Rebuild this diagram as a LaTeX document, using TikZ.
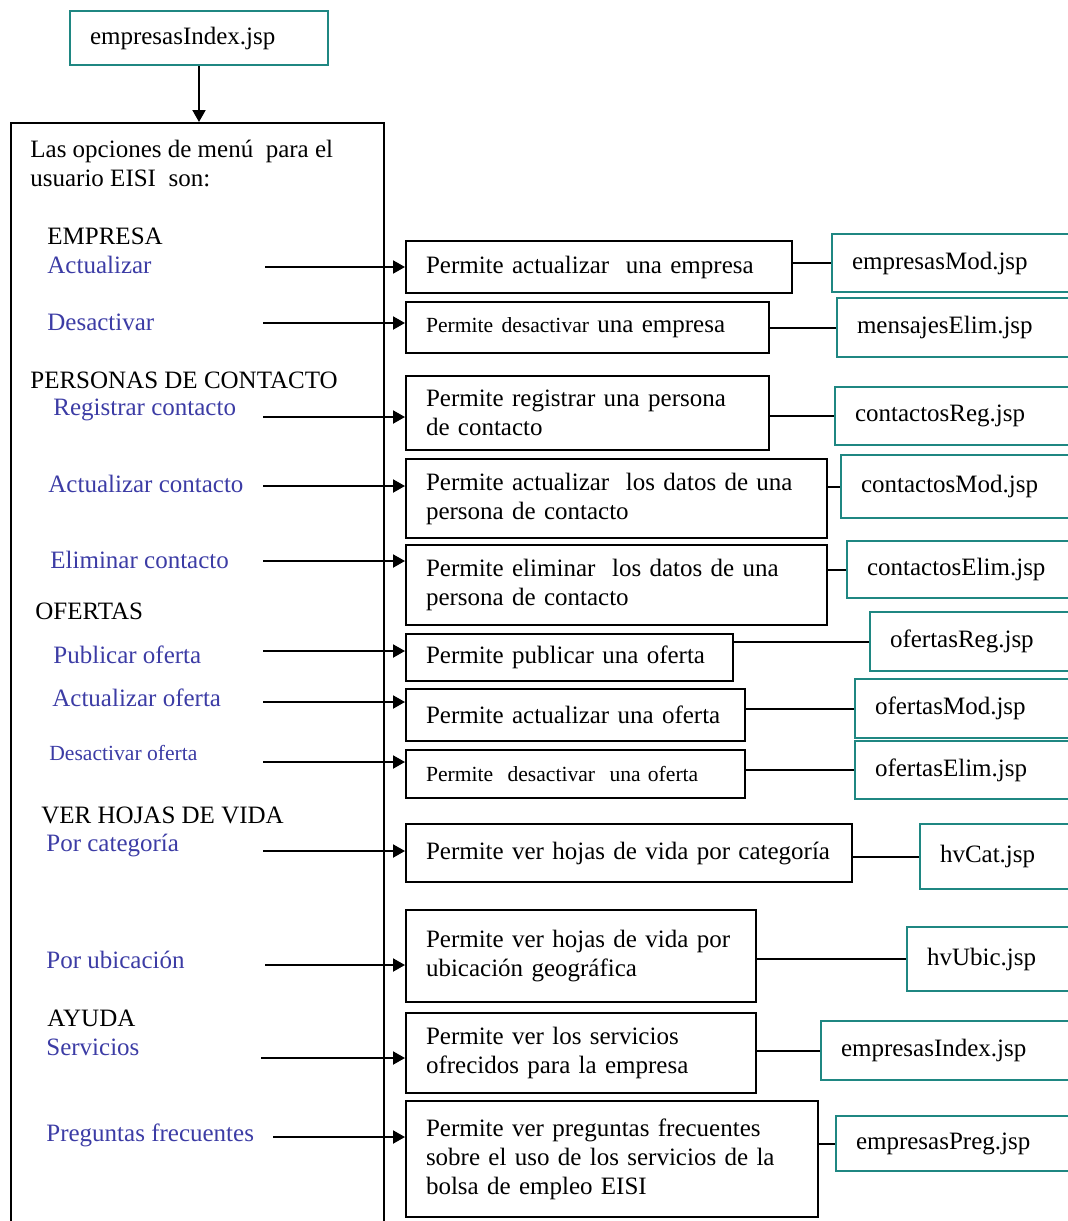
\documentclass[tikz,border=0pt]{standalone}
\usepackage{fontspec}
\setmainfont{Liberation Serif}
\usepackage{tikz}
\usetikzlibrary{positioning, arrows.meta}

\definecolor{jspteal}{RGB}{31,135,130}
\definecolor{menublue}{RGB}{60,60,165}

\begin{document}
\begin{tikzpicture}[
  x=0.5pt, y=-0.5pt,
  font=\fontsize{12.5}{14.5}\selectfont,
  frame/.style={draw, line width=1pt, anchor=north west, inner sep=0pt},
  action/.style 2 args={draw, line width=1pt, anchor=north west, align=left,
    inner xsep=10pt, inner ysep=0pt, text width=#1, minimum height=#2,
    execute at begin node={\hyphenpenalty=10000}},
  jsp/.style 2 args={action={#1}{#2}, draw=jspteal},
  head/.style={anchor=west, inner sep=0pt},
  option/.style={anchor=west, inner sep=0pt, text=menublue},
  arrow/.style={-{Triangle[length=6pt,width=6.5pt]}, line width=1pt},
  link/.style={line width=1pt},
]
  \useasboundingbox (0,0) rectangle (1067,1221);

  % entry page and menu
  \node[jsp={109pt}{27pt}] (idx) at (69,10) {empresasIndex.jsp};
  \node[frame, minimum width=186.5pt, minimum height=560pt] (menu) at (10,122) {};
  \draw[arrow] (idx.south) -- (idx.south |- menu.north);

  \node[anchor=north west, inner sep=0pt, align=left] (intro) at (30,140)
    {Las opciones de menú\ \ para el\\usuario EISI\ \ son:};

  \node[head] (hEmp) at (47,236) {EMPRESA};
  \node[option] (oEmpAct) at (47,265) {Actualizar};
  \node[option] (oEmpDes) at (47,322) {Desactivar};
  \node[head] (hCon) at (30,380) {PERSONAS DE CONTACTO};
  \node[option] (oConReg) at (53,410) {Registrar contacto};
  \node[option] (oConAct) at (48,484) {Actualizar contacto};
  \node[option] (oConEli) at (50,560) {Eliminar contacto};
  \node[head] (hOfe) at (35,611) {OFERTAS};
  \node[option] (oOfePub) at (53,655) {Publicar oferta};
  \node[option] (oOfeAct) at (52,698) {Actualizar oferta};
  \node[option, font=\fontsize{10.8}{13}\selectfont] (oOfeDes) at (49,753) {Desactivar oferta};
  \node[head] (hHv) at (41,815) {VER HOJAS DE VIDA};
  \node[option] (oHvCat) at (46,845) {Por categoría};
  \node[option] (oHvUbi) at (46,960) {Por ubicación};
  \node[head] (hAyu) at (47,1018) {AYUDA};
  \node[option] (oAyuSer) at (46,1047) {Servicios};
  \node[option] (oAyuPre) at (46,1135) {Preguntas frecuentes};

  % what each option does
  \node[action={173pt}{26pt}] (aEmpAct) at (405,240) {Permite actualizar\ \ una empresa};
  \node[action={161.5pt}{25.5pt}] (aEmpDes) at (405,301)
    {{\fontsize{10.8}{13}\selectfont Permite desactivar} una empresa};
  \node[action={161.5pt}{37pt}] (aConReg) at (405,375) {Permite registrar una persona\\de contacto};
  \node[action={190.5pt}{39.5pt}] (aConAct) at (405,458) {Permite actualizar\ \ los datos de una\\persona de contacto};
  \node[action={190.5pt}{40pt}] (aConEli) at (405,544) {Permite eliminar\ \ los datos de una\\persona de contacto};
  \node[action={143.5pt}{23.5pt}] (aOfePub) at (405,633) {Permite publicar una oferta};
  \node[action={149.5pt}{26pt}] (aOfeAct) at (405,688) {Permite actualizar una oferta};
  \node[action={149.5pt}{24pt}, font=\fontsize{10.8}{13}\selectfont] (aOfeDes) at (405,749)
    {Permite\ \ desactivar\ \ una oferta};
  \node[action={203pt}{29pt}] (aHvCat) at (405,823) {Permite ver hojas de vida por categoría};
  \node[action={155pt}{46pt}] (aHvUbi) at (405,909) {Permite ver hojas de vida por\\ubicación geográfica};
  \node[action={155pt}{40pt}] (aAyuSer) at (405,1012) {Permite ver los servicios\\ofrecidos para la empresa};
  \node[action={186pt}{58pt}] (aAyuPre) at (405,1100)
    {Permite ver preguntas frecuentes\\sobre el uso de los servicios de la\\bolsa de empleo EISI};

  % pages
  \node[jsp={104.5pt}{29pt}] (jEmpAct) at (831,233) {empresasMod.jsp};
  \node[jsp={102pt}{29.5pt}] (jEmpDes) at (836,297) {mensajesElim.jsp};
  \node[jsp={103pt}{29pt}] (jConReg) at (834,386) {contactosReg.jsp};
  \node[jsp={100pt}{31.5pt}] (jConAct) at (840,454) {contactosMod.jsp};
  \node[jsp={97pt}{28.5pt}] (jConEli) at (846,540) {contactosElim.jsp};
  \node[jsp={85.5pt}{29.5pt}] (jOfePub) at (869,611) {ofertasReg.jsp};
  \node[jsp={93pt}{29.5pt}] (jOfeAct) at (854,678) {ofertasMod.jsp};
  \node[jsp={93pt}{29pt}] (jOfeDes) at (854,740) {ofertasElim.jsp};
  \node[jsp={60.5pt}{32.5pt}] (jHvCat) at (919,823) {hvCat.jsp};
  \node[jsp={67pt}{32pt}] (jHvUbi) at (906,926) {hvUbic.jsp};
  \node[jsp={110pt}{29.5pt}] (jAyuSer) at (820,1020) {empresasIndex.jsp};
  \node[jsp={102.5pt}{27.5pt}] (jAyuPre) at (835,1115) {empresasPreg.jsp};

  % option -> action
  \coordinate (sEmpAct) at (265,267);
  \coordinate (sEmpDes) at (263,323);
  \coordinate (sConReg) at (263,417);
  \coordinate (sConAct) at (263,486);
  \coordinate (sConEli) at (263,561);
  \coordinate (sOfePub) at (263,651);
  \coordinate (sOfeAct) at (263,702);
  \coordinate (sOfeDes) at (263,762);
  \coordinate (sHvCat) at (263,851);
  \coordinate (sHvUbi) at (265,965);
  \coordinate (sAyuSer) at (261,1058);
  \coordinate (sAyuPre) at (273,1137);
  \draw[arrow] (sEmpAct) -- (sEmpAct -| aEmpAct.west);
  \draw[arrow] (sEmpDes) -- (sEmpDes -| aEmpDes.west);
  \draw[arrow] (sConReg) -- (sConReg -| aConReg.west);
  \draw[arrow] (sConAct) -- (sConAct -| aConAct.west);
  \draw[arrow] (sConEli) -- (sConEli -| aConEli.west);
  \draw[arrow] (sOfePub) -- (sOfePub -| aOfePub.west);
  \draw[arrow] (sOfeAct) -- (sOfeAct -| aOfeAct.west);
  \draw[arrow] (sOfeDes) -- (sOfeDes -| aOfeDes.west);
  \draw[arrow] (sHvCat) -- (sHvCat -| aHvCat.west);
  \draw[arrow] (sHvUbi) -- (sHvUbi -| aHvUbi.west);
  \draw[arrow] (sAyuSer) -- (sAyuSer -| aAyuSer.west);
  \draw[arrow] (sAyuPre) -- (sAyuPre -| aAyuPre.west);

  % action -- page
  \draw[link] (aEmpAct.east |- jEmpAct.west) -- (jEmpAct.west);
  \draw[link] (aEmpDes.east |- jEmpDes.west) -- (jEmpDes.west);
  \draw[link] (aConReg.east |- jConReg.west) -- (jConReg.west);
  \draw[link] (aConAct.east |- jConAct.west) -- (jConAct.west);
  \draw[link] (aConEli.east |- jConEli.west) -- (jConEli.west);
  \draw[link] (aOfePub.east |- jOfePub.west) -- (jOfePub.west);
  \draw[link] (aOfeAct.east |- jOfeAct.west) -- (jOfeAct.west);
  \draw[link] (aOfeDes.east |- jOfeDes.west) -- (jOfeDes.west);
  \draw[link] (aHvCat.east |- jHvCat.west) -- (jHvCat.west);
  \draw[link] (aHvUbi.east |- jHvUbi.west) -- (jHvUbi.west);
  \draw[link] (aAyuSer.east |- jAyuSer.west) -- (jAyuSer.west);
  \draw[link] (aAyuPre.east |- jAyuPre.west) -- (jAyuPre.west);
\end{tikzpicture}
\end{document}
